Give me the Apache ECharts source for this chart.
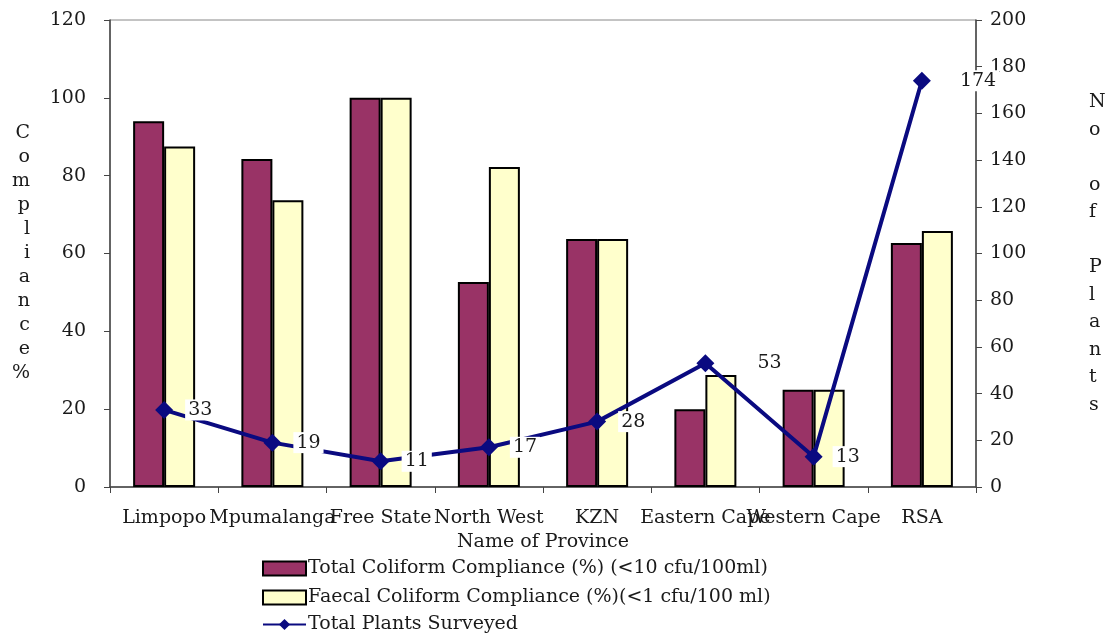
<!DOCTYPE html>
<html><head><meta charset="utf-8">
<script src="https://cdn.jsdelivr.net/npm/echarts@6/dist/echarts.min.js"></script>
<style>html,body{margin:0;padding:0;background:#fff}#c{width:1113px;height:635px}</style>
</head><body><div id="c"></div>
<script>
const categories = ['Limpopo','Mpumalanga','Free State','North West','KZN','Eastern Cape','Western Cape','RSA'];
const totalColiform = [94, 84.3, 100, 52.7, 63.7, 20, 25, 62.7];
const faecalColiform = [87.5, 73.7, 100, 82.2, 63.7, 28.8, 25, 65.8];
const plantsSurveyed = [33, 19, 11, 17, 28, 53, 13, 174];
const leftTicks = {min: 0, max: 120, interval: 20};
const rightTicks = {min: 0, max: 200, interval: 20};
const seriesNames = ['Total Coliform Compliance (%) (<10 cfu/100ml)', 'Faecal Coliform Compliance (%)(<1 cfu/100 ml)', 'Total Plants Surveyed'];

const font = 'DejaVu Serif';
const txt = '#1a1a1a';
// label distance per point (style only)
const labelDist = [12, 12, 12, 12, 12, 40, 10, 26];
const legendRow = (name, top, icon) => ({
  orient: 'vertical', left: 262, top: top, padding: 0, itemGap: 0, itemWidth: 43, itemHeight: 14,
  textStyle: {fontFamily: font, fontSize: 19, color: txt, padding: [0, 0, 0, -3]},
  data: [icon ? {name: name, icon: icon} : {name: name}]
});
const chart = echarts.init(document.getElementById('c'));
chart.setOption({
  animation: false,
  textStyle: {fontFamily: font},
  grid: {left: 110, right: 137, top: 20, bottom: 148, show: true, borderColor: '#888', borderWidth: 1},
  legend: [
    legendRow(seriesNames[0], 559, 'rect'),
    legendRow(seriesNames[1], 588, 'rect'),
    legendRow(seriesNames[2], 615, null)
  ],
  xAxis: {
    type: 'category', data: categories,
    name: 'Name of Province', nameLocation: 'middle', nameGap: 45,
    nameTextStyle: {fontFamily: font, fontSize: 19, color: txt},
    axisLine: {lineStyle: {color: '#444', width: 1.5}},
    axisTick: {show: true, length: 6, lineStyle: {color: '#444'}},
    axisLabel: {interval: 0, margin: 22, fontFamily: font, fontSize: 19, color: txt, hideOverlap: false}
  },
  yAxis: [{
    type: 'value', min: leftTicks.min, max: leftTicks.max, interval: leftTicks.interval,
    name: 'C\no\nm\np\nl\ni\na\nn\nc\ne\n%', nameLocation: 'middle', nameGap: 80, nameRotate: 0,
    nameTextStyle: {fontFamily: font, fontSize: 19, color: txt, lineHeight: 24},
    axisLine: {show: true, lineStyle: {color: '#444', width: 1.5}},
    axisTick: {show: true, length: 6, lineStyle: {color: '#444'}},
    axisLabel: {fontFamily: font, fontSize: 19, color: txt, margin: 24},
    splitLine: {show: false}
  }, {
    type: 'value', min: rightTicks.min, max: rightTicks.max, interval: rightTicks.interval,
    position: 'right',
    name: 'N\no\n \no\nf\n \nP\nl\na\nn\nt\ns', nameLocation: 'middle', nameGap: 113, nameRotate: 0,
    nameTextStyle: {fontFamily: font, fontSize: 19, color: txt, lineHeight: 27.5, padding: [24, 0, 0, 0]},
    axisLine: {show: true, lineStyle: {color: '#444', width: 1.5}},
    axisTick: {show: true, length: 6, lineStyle: {color: '#444'}},
    axisLabel: {fontFamily: font, fontSize: 19, color: txt, margin: 14},
    splitLine: {show: false}
  }],
  series: [{
    name: seriesNames[0], type: 'bar', data: totalColiform,
    barWidth: 31, barGap: '0%',
    itemStyle: {color: '#993366', borderColor: '#000', borderWidth: 2}
  }, {
    name: seriesNames[1], type: 'bar', data: faecalColiform,
    barWidth: 31, barGap: '0%',
    itemStyle: {color: '#FFFFCC', borderColor: '#000', borderWidth: 2}
  }, {
    name: seriesNames[2], type: 'line', yAxisIndex: 1,
    data: plantsSurveyed.map((v, i) => ({value: v, label: {distance: labelDist[i]}})),
    symbol: 'diamond', symbolSize: 18,
    lineStyle: {color: '#0a0a80', width: 4},
    itemStyle: {color: '#0a0a80'},
    label: {show: true, position: 'right', distance: 12, fontFamily: font, fontSize: 19, color: txt,
      backgroundColor: '#fff', padding: [1, 3]},
    z: 5
  }]
});
</script></body></html>
